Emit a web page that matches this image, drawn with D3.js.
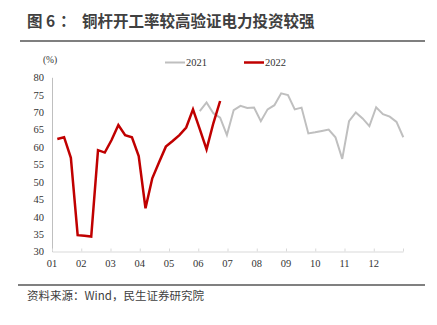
<!DOCTYPE html>
<html><head><meta charset="utf-8">
<script src="https://cdn.jsdelivr.net/npm/d3@7"></script>
<style>body{margin:0;background:#fff}svg{display:block}</style>
</head><body>
<script>
const monthLabels = ["01","02","03","04","05","06","07","08","09","10","11","12"];
const yTicks = [30,35,40,45,50,55,60,65,70,75,80];
const seriesNames = ["2021","2022"];
// weekly values; 2021 shown from week index 21
const start2021 = 21;
const values2021 = [70.3,72.8,69.7,68.4,63.4,70.6,71.8,71.2,71.3,67.4,70.8,72.0,75.4,74.9,70.8,71.3,63.9,64.2,64.6,65.0,62.8,56.6,67.4,69.9,68.2,66.0,71.4,69.4,68.7,67.2,62.8];
const values2022 = [62.3,62.8,56.9,34.7,34.5,34.3,59.1,58.4,62.0,66.3,63.4,62.8,57.4,42.4,51.0,55.6,60.1,61.7,63.4,65.6,70.8,65.1,59.3,66.8,73.2];
const colors = ["#BFBFBF","#C00000"];

const W=437,H=325;
const svg=d3.select("body").append("svg").attr("width",W).attr("height",H);
const cjk='"Noto Sans CJK SC", sans-serif';
const serif='"Liberation Serif", "Times New Roman", serif';

const title=svg.append("text").attr("y",27).attr("font-family",cjk).attr("font-weight","bold")
  .attr("font-size",15.5).attr("fill","#404040");
title.append("tspan").attr("x",27).text("图 6");
title.append("tspan").attr("x",60).text("：");
title.append("tspan").attr("x",82).text("铜杆开工率较高验证电力投资较强");
svg.append("line").attr("x1",20).attr("x2",425).attr("y1",41).attr("y2",41).attr("stroke","#555").attr("stroke-width",1.5);
svg.append("line").attr("x1",18).attr("x2",425).attr("y1",285).attr("y2",285).attr("stroke","#808080").attr("stroke-width",2);
svg.append("text").attr("x",27).attr("y",300).attr("font-family",cjk)
  .attr("font-size",11.5).attr("fill","#404040").text("资料来源：Wind，民生证券研究院");

const y=d3.scaleLinear().domain([30,80]).range([251.5,77.3]);
const xm=d3.scaleLinear().domain([0,12]).range([52,403]);
const xw=d3.scaleLinear().domain([0,51]).range([57.3,403.3]);

// y axis
const ya=svg.append("g").attr("transform","translate(52,0)")
  .call(d3.axisLeft(y).tickValues(yTicks).tickSize(0).tickPadding(8));
ya.select(".domain").attr("stroke","#BFBFBF");
ya.selectAll("text").attr("font-family",serif).attr("font-size",10.5).attr("fill","#333");

// x axis
const xa=svg.append("g").attr("transform","translate(0,251.5)")
  .call(d3.axisBottom(xm).tickValues(d3.range(0,13)).tickSize(-3).tickSizeOuter(0).tickFormat(()=>""));
xa.select(".domain").attr("stroke","#D9D9D9");
xa.selectAll(".tick line").attr("stroke","#D9D9D9");
svg.append("g").selectAll("text").data(monthLabels).join("text")
  .attr("x",(d,i)=>xm(i)).attr("y",267).attr("text-anchor","middle")
  .attr("font-family",serif).attr("font-size",10.5).attr("fill","#333").text(d=>d);

svg.append("text").attr("x",50).attr("y",63).attr("text-anchor","middle")
  .attr("font-family",serif).attr("font-size",9.5).attr("fill","#333").text("(%)");

const line=d3.line().x(d=>xw(d[0])).y(d=>y(d[1]));
svg.append("path").datum(values2021.map((v,i)=>[i+start2021,v]))
  .attr("d",line).attr("fill","none").attr("stroke",colors[0]).attr("stroke-width",2);
svg.append("path").datum(values2022.map((v,i)=>[i,v]))
  .attr("d",line).attr("fill","none").attr("stroke",colors[1]).attr("stroke-width",2.5).attr("stroke-linejoin","miter");

// legend
const lx=[165,244];
seriesNames.forEach((n,i)=>{
  svg.append("line").attr("x1",lx[i]).attr("x2",lx[i]+20).attr("y1",62.5).attr("y2",62.5)
    .attr("stroke",colors[i]).attr("stroke-width",i?2.5:2);
  svg.append("text").attr("x",lx[i]+21).attr("y",66).attr("font-family",serif)
    .attr("font-size",10.5).attr("fill","#333").text(n);
});
</script>
</body></html>
